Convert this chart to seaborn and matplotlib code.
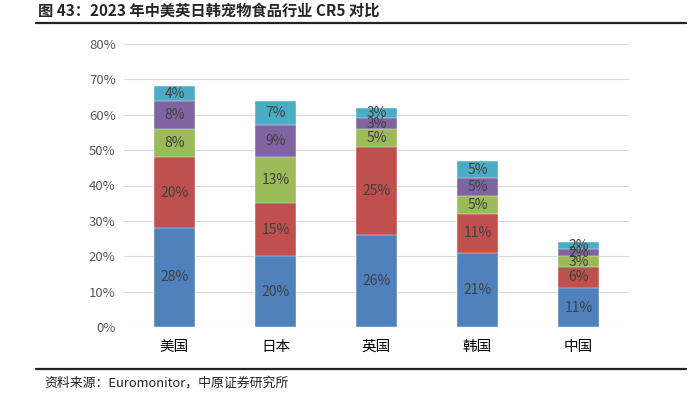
import pandas as pd
import numpy as np
import matplotlib.pyplot as plt
import seaborn as sns

countries = ['美国', '日本', '英国', '韩国', '中国']
top1 = [28, 20, 26, 21, 11]
top2 = [20, 15, 25, 11, 6]
top3 = [8, 13, 5, 5, 3]
top4 = [8, 9, 3, 5, 2]
top5 = [4, 7, 3, 5, 2]

colors = ['#4F81BD', '#C0504D', '#9BBB59', '#8064A2', '#4BACC6']

sns.set_style('white')
plt.rcParams['font.family'] = ['Noto Sans CJK SC', 'DejaVu Sans']

df = pd.DataFrame({'country': countries, 'r1': top1, 'r2': top2, 'r3': top3,
                   'r4': top4, 'r5': top5})
series = ['r1', 'r2', 'r3', 'r4', 'r5']

fig = plt.figure(figsize=(7, 3.94), dpi=100)
ax = fig.add_axes([124 / 700, 67 / 394, 505 / 700, 283 / 394])

bottom = np.zeros(len(df))
for col, c in zip(series, colors):
    # each layer drawn as the running total, smaller layers end up on top
    tmp = df.assign(total=bottom + df[col])
    sns.barplot(data=tmp, x='country', y='total', color=c, width=0.4,
                saturation=1, ax=ax)
    bottom = bottom + df[col].values

for i, cont in enumerate(ax.containers):
    for p in cont:
        p.set_zorder(10 - i)
        p.set_edgecolor('white')
        p.set_linewidth(0.3)

bottom = np.zeros(len(df))
for col in series:
    vals = df[col].values
    for i, v in enumerate(vals):
        ax.text(i, bottom[i] + v / 2, f'{v}%', ha='center', va='center',
                fontsize=10, color='#404040', zorder=20)
    bottom = bottom + vals

ax.set_ylim(0, 80)
ax.set_xlim(-0.5, 4.5)
ax.set_yticks(range(0, 81, 10))
ax.set_yticklabels([f'{v}%' for v in range(0, 81, 10)], fontsize=9.5,
                   color='#595959')
ax.tick_params(axis='x', labelsize=10.5, colors='#000000', length=0, pad=9)
ax.tick_params(axis='y', length=0, pad=6)
ax.set_xlabel('')
ax.set_ylabel('')
ax.yaxis.grid(True, color='#D9D9D9', linewidth=0.8, zorder=0)
ax.set_axisbelow(True)
for s in ax.spines.values():
    s.set_visible(False)

fig.text(38 / 700, 1 - 11 / 394, '图 43：2023 年中美英日韩宠物食品行业 CR5 对比',
         fontsize=11, fontweight='bold', va='center', ha='left')
fig.add_artist(plt.Line2D([36 / 700, 686 / 700], [1 - 23 / 394, 1 - 23 / 394],
                          color='#222222', linewidth=1.6))
fig.add_artist(plt.Line2D([36 / 700, 686 / 700], [1 - 369 / 394, 1 - 369 / 394],
                          color='#222222', linewidth=1.6))
fig.text(44 / 700, 1 - 383 / 394, '资料来源：Euromonitor，中原证券研究所',
         fontsize=9.3, va='center', ha='left', color='#222222')

fig.savefig('out.png', dpi=100)
